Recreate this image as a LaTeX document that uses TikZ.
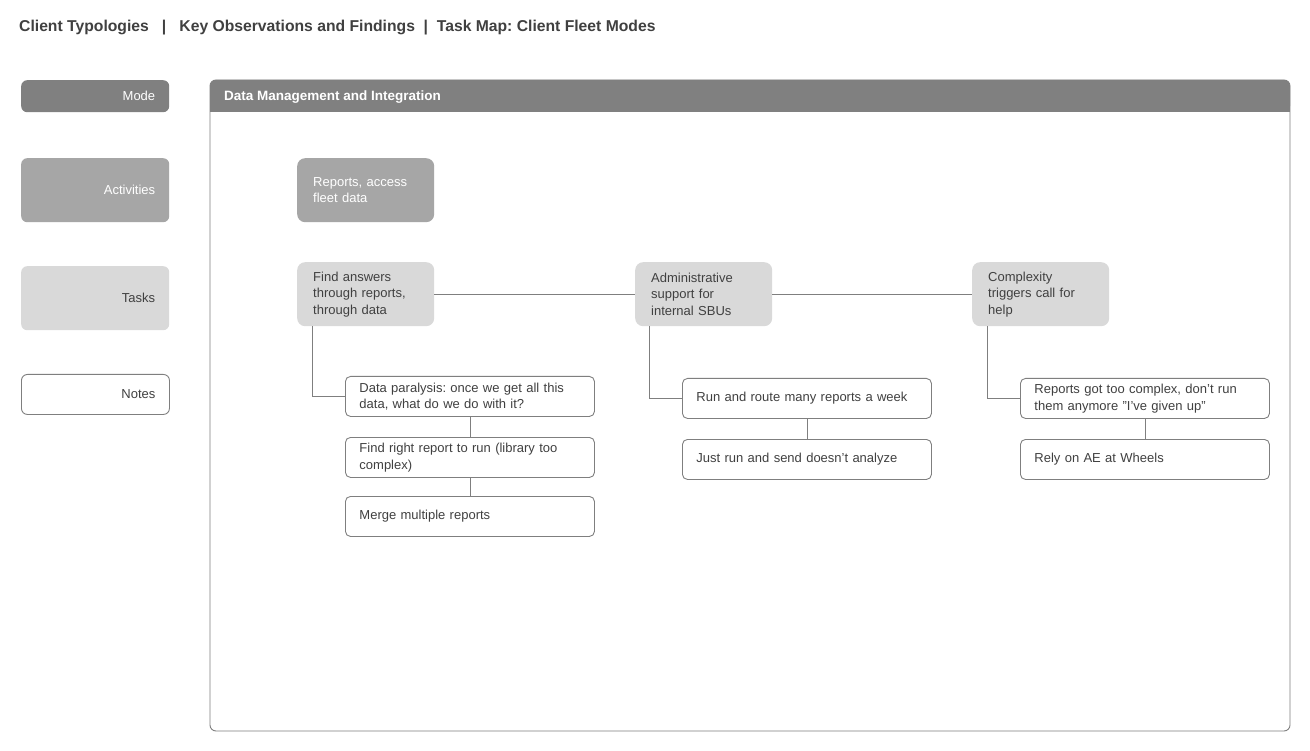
\documentclass[tikz,border=0pt]{standalone}
\usepackage{fontspec}
\setmainfont{Liberation Sans}
\usetikzlibrary{positioning}
\frenchspacing
\definecolor{modegray}{HTML}{808080}
\definecolor{actgray}{HTML}{A6A6A6}
\definecolor{taskgray}{HTML}{D9D9D9}
\definecolor{txtgray}{HTML}{404040}
\definecolor{linegray}{HTML}{7F7F7F}
\begin{document}
\begin{tikzpicture}[x=1pt,y=-1pt,
    rowlabel/.style={anchor=north west,minimum width=148,inner xsep=14,text width=120,align=right,rounded corners=6,
      font=\fontsize{13}{16}\selectfont},
    activity/.style={anchor=north west,fill=actgray,text=white,minimum width=137,minimum height=64,inner xsep=16,
      text width=105,align=left,rounded corners=8,font=\fontsize{13}{16.5}\selectfont},
    task/.style={activity,fill=taskgray,text=txtgray},
    note/.style={anchor=north west,draw=linegray,line width=0.9,text=txtgray,minimum width=249,minimum height=40,
      inner xsep=14,text width=221,align=left,rounded corners=5,font=\fontsize{13}{16.5}\selectfont},
    link/.style={draw=linegray,line width=0.9}]
    \useasboundingbox[fill=white] (0,0) rectangle (1310,751);
    % title
    \node[anchor=west,inner sep=0,text=txtgray,font=\bfseries\fontsize{15.7}{19}\selectfont] (title) at (19,28)
      {Client Typologies~~~|~~~Key Observations and Findings~~|~~Task Map: Client Fleet Modes};
    % left column
    \node[rowlabel,fill=modegray,text=white,minimum height=32] (mode) at (21,80) {Mode};
    \node[rowlabel,fill=actgray,text=white,minimum height=64] (activities) at (21,158) {Activities};
    \node[rowlabel,fill=taskgray,text=txtgray,minimum height=64] (tasks) at (21,266) {Tasks};
    \node[rowlabel,draw=linegray,line width=0.9,text=txtgray,minimum height=40] (notes) at (21,374) {Notes};
    % frame and header
    \draw[linegray,line width=0.9,rounded corners=6] (210,80) rectangle (1290,731);
    \fill[modegray,rounded corners=6] (210,80) rectangle (1290,112);
    \fill[modegray] (210,100) rectangle (1290,112);
    \node[anchor=west,inner sep=0,text=white,font=\bfseries\fontsize{13.5}{16}\selectfont] (header) at (224,97.5)
      {Data Management and Integration};
    % activity
    \node[activity] (reports) at (297,158) {Reports, access\\fleet data};
    % tasks
    \node[task] (answers) at (297,262) {Find answers\\through reports,\\through data};
    \node[task] (admin) at (635,262) {Administrative\\support for\\internal SBUs};
    \node[task] (complex) at (972,262) {Complexity\\triggers call for\\help};
    \draw[link] (answers) -- (admin) (admin) -- (complex);
    % notes
    \node[note] (paralysis) at (345,376) {Data paralysis: once we get all this\\data, what do we do with it?};
    \node[note] (right) at (345,437) {Find right report to run (library too\\complex)};
    \node[note] (merge) at (345,496) {Merge multiple reports};
    \node[note] (route) at (682,378) {Run and route many reports a week};
    \node[note] (send) at (682,439) {Just run and send doesn't analyze};
    \node[note] (gaveup) at (1020,378) {Reports got too complex, don't run\\them anymore "I've given up"};
    \node[note] (rely) at (1020,439) {Rely on AE at Wheels};
    \draw[link] ([xshift=15]answers.south west) |- (paralysis.west);
    \draw[link] ([xshift=14]admin.south west) |- (route.west);
    \draw[link] ([xshift=15]complex.south west) |- (gaveup.west);
    \draw[link] (paralysis) -- (right) (right) -- (merge);
    \draw[link] (route) -- (send);
    \draw[link] (gaveup) -- (rely);
\end{tikzpicture}
\end{document}
